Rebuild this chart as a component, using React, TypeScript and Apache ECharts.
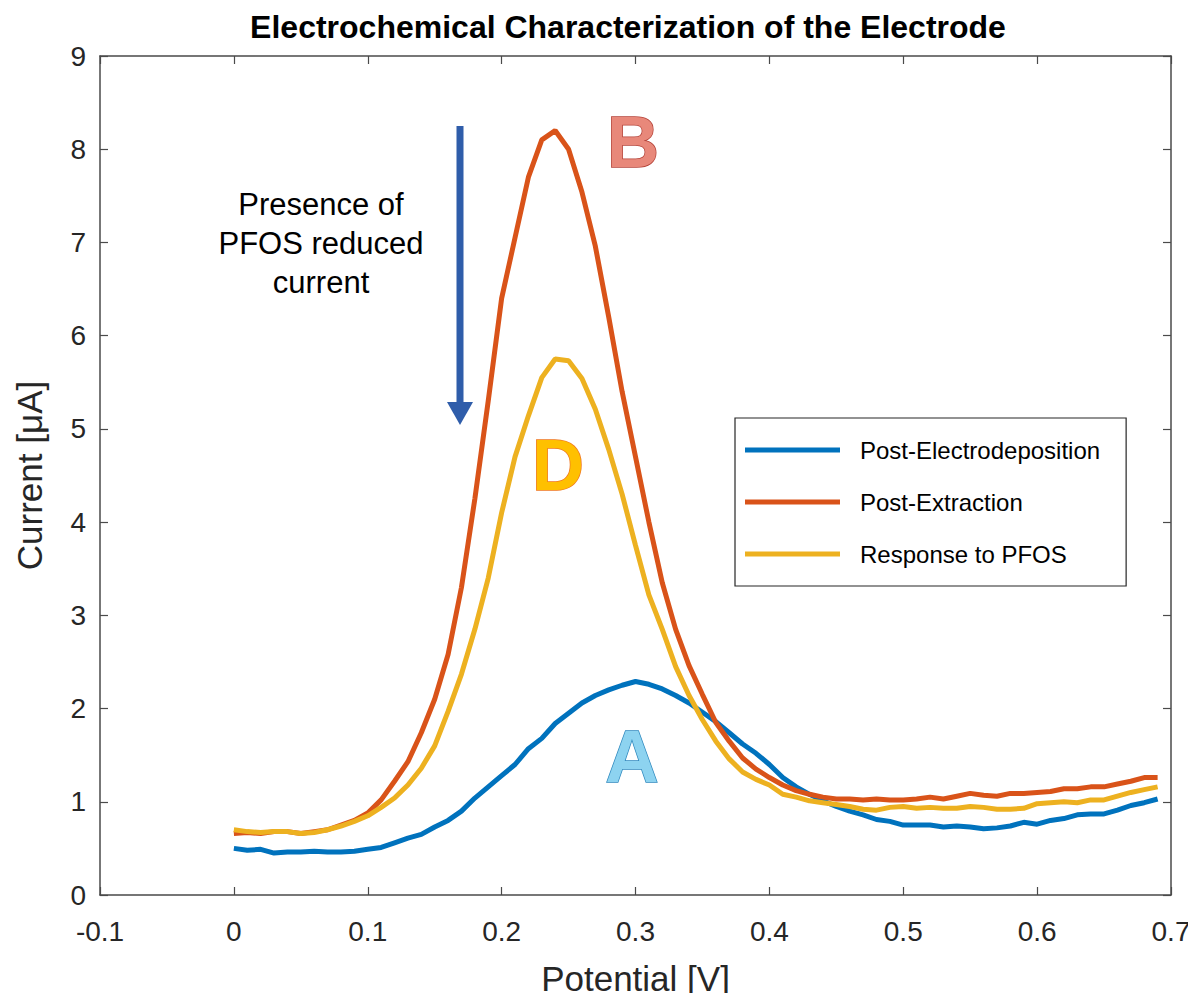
import React, { useEffect, useRef } from "react";
import * as echarts from "echarts";

const potentials: number[] = [
  0.0, 0.01, 0.02, 0.03, 0.04, 0.05, 0.06, 0.07, 0.08, 0.09,
  0.1, 0.11, 0.12, 0.13, 0.14, 0.15, 0.16, 0.17, 0.18, 0.19,
  0.2, 0.21, 0.22, 0.23, 0.24, 0.25, 0.26, 0.27, 0.28, 0.29,
  0.3, 0.31, 0.32, 0.33, 0.34, 0.35, 0.36, 0.37, 0.38, 0.39,
  0.4, 0.41, 0.42, 0.43, 0.44, 0.45, 0.46, 0.47, 0.48, 0.49,
  0.5, 0.51, 0.52, 0.53, 0.54, 0.55, 0.56, 0.57, 0.58, 0.59,
  0.6, 0.61, 0.62, 0.63, 0.64, 0.65, 0.66, 0.67, 0.68, 0.69,
];

const postElectrodeposition: number[] = [
  0.5, 0.48, 0.49, 0.45, 0.46, 0.46, 0.47, 0.46, 0.46, 0.47,
  0.49, 0.51, 0.56, 0.61, 0.65, 0.73, 0.8, 0.9, 1.04, 1.16,
  1.28, 1.4, 1.57, 1.68, 1.84, 1.95, 2.06, 2.14, 2.2, 2.25,
  2.29, 2.26, 2.21, 2.14, 2.06, 1.96, 1.86, 1.74, 1.62, 1.52,
  1.4, 1.26, 1.16, 1.08, 1.01, 0.95, 0.9, 0.86, 0.81, 0.79,
  0.75, 0.75, 0.75, 0.73, 0.74, 0.73, 0.71, 0.72, 0.74, 0.78,
  0.76, 0.8, 0.82, 0.86, 0.87, 0.87, 0.91, 0.96, 0.99, 1.03,
];

const postExtraction: number[] = [
  0.66, 0.67, 0.66, 0.68, 0.68, 0.66, 0.68, 0.7, 0.75, 0.8,
  0.88, 1.02, 1.22, 1.43, 1.74, 2.1, 2.58, 3.3, 4.25, 5.3,
  6.4, 7.05, 7.7, 8.1, 8.2, 8.0, 7.54, 6.96, 6.2, 5.4,
  4.7, 4.0, 3.35, 2.85, 2.46, 2.15, 1.85, 1.65, 1.47, 1.35,
  1.26, 1.18, 1.12, 1.08, 1.05, 1.03, 1.03, 1.02, 1.03, 1.02,
  1.02, 1.03, 1.05, 1.03, 1.06, 1.09, 1.07, 1.06, 1.09, 1.09,
  1.1, 1.11, 1.14, 1.14, 1.16, 1.16, 1.19, 1.22, 1.26, 1.26,
];

const responseToPFOS: number[] = [
  0.7, 0.68, 0.67, 0.68, 0.68, 0.66, 0.67, 0.7, 0.74, 0.79,
  0.85, 0.94, 1.04, 1.18, 1.36, 1.6, 1.97, 2.37, 2.85, 3.4,
  4.1, 4.7, 5.14, 5.55, 5.75, 5.73, 5.54, 5.21, 4.78, 4.3,
  3.75, 3.22, 2.85, 2.45, 2.14, 1.88, 1.65, 1.46, 1.32, 1.24,
  1.18, 1.08, 1.05, 1.01, 0.99, 0.97, 0.95, 0.92, 0.91, 0.94,
  0.95, 0.93, 0.94, 0.93, 0.93, 0.95, 0.94, 0.92, 0.92, 0.93,
  0.98, 0.99, 1.0, 0.99, 1.02, 1.02, 1.06, 1.1, 1.13, 1.16,
];

const seriesNames: string[] = ["Post-Electrodeposition", "Post-Extraction", "Response to PFOS"];
const seriesColors: string[] = ["#0072BD", "#D95319", "#EDB120"];
const seriesValues: number[][] = [postElectrodeposition, postExtraction, responseToPFOS];

const annotationLines: string[] = ["Presence of", "PFOS reduced", "current"];

const AXIS = "#262626";
const FONT = "Arial, 'Liberation Sans', Helvetica, sans-serif";

export default function App() {
  const ref = useRef<HTMLDivElement>(null);

  useEffect(() => {
    if (!ref.current) return;
    const chart = echarts.init(ref.current, undefined, { renderer: "svg" });

    const fmt = (v: number) => String(parseFloat(v.toFixed(2)));

    const series = seriesNames.map((name, i) => ({
      name,
      type: "line",
      showSymbol: false,
      symbol: "none",
      data: potentials.map((p, j) => [p, seriesValues[i][j]]),
      lineStyle: { color: seriesColors[i], width: 5 },
      itemStyle: { color: seriesColors[i] },
      xAxisIndex: 0,
      yAxisIndex: 0,
      z: 3 + i,
    }));

    const axisCommon = {
      axisLine: { show: true, onZero: false, lineStyle: { color: "#4a4a4a", width: 1.5 } },
      axisTick: { show: true, inside: true, length: 8, lineStyle: { color: "#4a4a4a", width: 1.2 } },
      splitLine: { show: false },
    };

    chart.setOption({
      animation: false,
      backgroundColor: "#ffffff",
      title: {
        text: "Electrochemical Characterization of the Electrode",
        left: 623,
        top: 6,
        textAlign: "center",
        textStyle: { fontFamily: FONT, fontSize: 32, fontWeight: "bold", color: "#000000" },
      },
      grid: { left: 100, right: 25, top: 56, bottom: 104, containLabel: false },
      legend: {
        orient: "vertical",
        left: 735,
        top: 418,
        icon: "rect",
        itemWidth: 95,
        itemHeight: 5,
        itemGap: 28,
        padding: [20, 26, 20, 10],
        backgroundColor: "#ffffff",
        borderColor: "#262626",
        borderWidth: 1.2,
        borderRadius: 0,
        data: seriesNames,
        textStyle: {
          fontFamily: FONT,
          fontSize: 24,
          color: "#000000",
          padding: [0, 0, 0, 15],
        },
      },
      xAxis: [
        {
          type: "value",
          min: -0.1,
          max: 0.7,
          interval: 0.1,
          position: "bottom",
          name: "Potential [V]",
          nameLocation: "middle",
          nameGap: 66,
          nameTextStyle: { fontFamily: FONT, fontSize: 35, color: AXIS },
          axisLabel: { fontFamily: FONT, fontSize: 28, color: AXIS, margin: 22, formatter: fmt },
          ...axisCommon,
        },
        {
          type: "value",
          min: -0.1,
          max: 0.7,
          interval: 0.1,
          position: "top",
          axisLabel: { show: false },
          ...axisCommon,
        },
      ],
      yAxis: [
        {
          type: "value",
          min: 0,
          max: 9,
          interval: 1,
          position: "left",
          name: "Current [μA]",
          nameLocation: "middle",
          nameGap: 53,
          nameRotate: 90,
          nameTextStyle: { fontFamily: FONT, fontSize: 35, color: AXIS },
          axisLabel: { fontFamily: FONT, fontSize: 28, color: AXIS, margin: 14 },
          ...axisCommon,
        },
        {
          type: "value",
          min: 0,
          max: 9,
          interval: 1,
          position: "right",
          axisLabel: { show: false },
          ...axisCommon,
        },
      ],
      series,
      graphic: [
        {
          type: "line",
          shape: { x1: 460, y1: 126, x2: 460, y2: 404 },
          style: { stroke: "#2F5DAA", lineWidth: 7 },
          z: 10,
        },
        {
          type: "polygon",
          shape: { points: [[447, 402], [473, 402], [460, 425]] },
          style: { fill: "#2F5DAA" },
          z: 10,
        },
        ...annotationLines.map((t, i) => ({
          type: "text",
          x: 321,
          y: 204 + i * 39,
          z: 10,
          style: {
            text: t,
            fill: "#000000",
            font: `31px ${FONT}`,
            textAlign: "center",
            textVerticalAlign: "middle",
          },
        })),
        {
          type: "text",
          x: 633,
          y: 142,
          z: 10,
          style: {
            text: "B",
            fill: "#E8887A",
            stroke: "#B5443A",
            lineWidth: 1.5,
            font: `bold 72px ${FONT}`,
            textAlign: "center",
            textVerticalAlign: "middle",
          },
        },
        {
          type: "text",
          x: 558,
          y: 465,
          z: 10,
          style: {
            text: "D",
            fill: "#FFC000",
            stroke: "#F07820",
            lineWidth: 1.5,
            font: `bold 72px ${FONT}`,
            textAlign: "center",
            textVerticalAlign: "middle",
          },
        },
        {
          type: "text",
          x: 632,
          y: 756,
          z: 10,
          style: {
            text: "A",
            fill: "#8DD3F0",
            stroke: "#2E88BE",
            lineWidth: 1.5,
            font: `bold 74px ${FONT}`,
            textAlign: "center",
            textVerticalAlign: "middle",
          },
        },
      ],
    });

    return () => chart.dispose();
  }, []);

  return <div ref={ref} style={{ width: 1196, height: 1001, margin: -8 }} />;
}
